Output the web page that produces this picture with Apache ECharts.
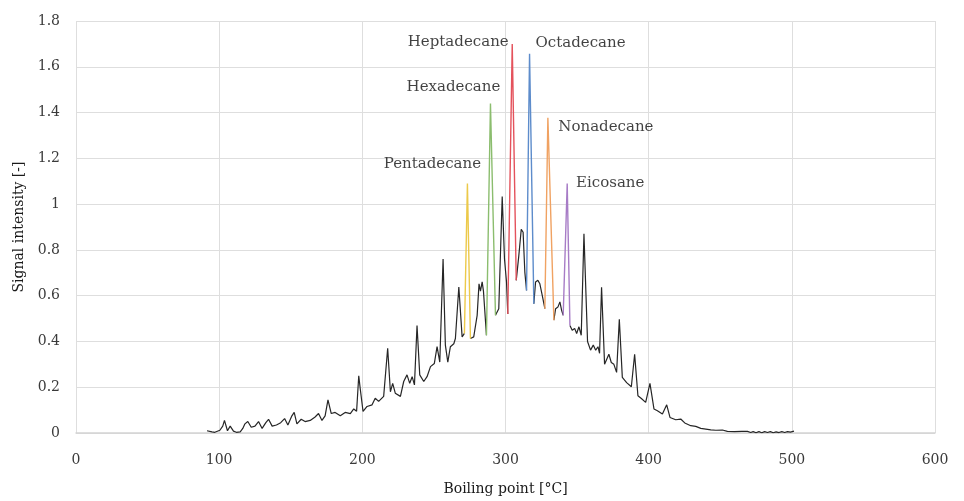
<!DOCTYPE html>
<html>
<head>
<meta charset="utf-8">
<script src="https://cdn.jsdelivr.net/npm/echarts@6/dist/echarts.min.js"></script>
<style>
  html, body { margin: 0; padding: 0; background: #ffffff; }
  #chart { width: 964px; height: 501px; }
</style>
</head>
<body>
<div id="chart"></div>
<script>
// Axis ticks
const xTicks = [0, 100, 200, 300, 400, 500, 600];
const yTicks = [0, 0.2, 0.4, 0.6, 0.8, 1, 1.2, 1.4, 1.6, 1.8];

// Chromatogram trace (boiling point °C, signal), split where the n-alkane peaks sit
const traceLow = [
  [91.5,0.01],[95,0.005],[97,0.003],[100.5,0.012],[102.5,0.03],[103.7,0.055],[105.8,0.01],[107.7,0.03],
  [110,0.008],[112,0.003],[114.7,0.005],[116.5,0.02],[118,0.04],[120,0.05],[122.4,0.025],[125,0.03],
  [127.5,0.05],[130,0.02],[132.6,0.045],[134.5,0.06],[137,0.03],[140,0.035],[143,0.045],[145.7,0.063],
  [148,0.035],[150.8,0.075],[152.4,0.09],[154.3,0.04],[157.3,0.06],[160,0.05],[163.6,0.055],[167,0.07],
  [169.4,0.085],[171.8,0.055],[174,0.075],[176,0.145],[178.3,0.085],[181,0.09],[184.6,0.075],[188,0.09],
  [191.6,0.085],[194,0.105],[196,0.095],[197.5,0.25],[198.6,0.19],[200.5,0.094],[203.3,0.116],[206.8,0.123],
  [209,0.152],[211.4,0.138],[214.9,0.16],[217.7,0.37],[219.6,0.18],[221.2,0.217],[223,0.174],[226.6,0.16],
  [228.9,0.225],[231.2,0.254],[233.1,0.217],[234.8,0.246],[236.4,0.21],[238.2,0.47],[240.1,0.254],[242.9,0.225],
  [245.2,0.246],[247.6,0.29],[250.3,0.304],[252.2,0.377],[254.1,0.31],[256.4,0.76],[258,0.384],[259.7,0.31],
  [261.5,0.377],[263.9,0.39],[265,0.413],[267.4,0.638],[269.7,0.42],[271.3,0.435]
];
const traceC15C16 = [[275.5,0.413],[277.8,0.42],[280.2,0.514],[281.5,0.652],[282.5,0.62],[283.7,0.66],[284.6,0.62],[286.7,0.427]];
const traceC16C17 = [[293,0.514],[295.3,0.543],[297.7,1.033],[299.3,0.76],[300.7,0.66],[301.6,0.52]];
const traceC17C18 = [[307.5,0.667],[309.3,0.775],[311,0.89],[312.3,0.877],[313.5,0.703],[314.7,0.623]];
const traceC18C19 = [[319.8,0.565],[321,0.66],[322.6,0.667],[324,0.652],[325.7,0.6],[327.5,0.543]];
const traceC19C20 = [[333.8,0.493],[335,0.543],[336.6,0.55],[338,0.573],[339.2,0.536],[340.3,0.514]];
const traceHigh = [
  [345,0.47],[346.6,0.449],[348.3,0.457],[349.7,0.435],[351.3,0.464],[352.9,0.427],[354.8,0.87],[357.3,0.4],
  [359.4,0.362],[361.3,0.384],[363,0.362],[364.6,0.377],[365.7,0.348],[367.1,0.637],[369.2,0.3],[370.5,0.308],
  [372.2,0.344],[373.9,0.308],[375.7,0.3],[377.6,0.265],[379.5,0.497],[381.6,0.243],[384.6,0.22],[387.9,0.202],
  [390.2,0.344],[392.5,0.163],[394.9,0.151],[397.9,0.134],[400.9,0.217],[403.7,0.105],[406.1,0.097],[409.6,0.083],
  [412.6,0.123],[414.9,0.068],[418.9,0.058],[422.4,0.061],[425.2,0.044],[429.4,0.032],[432.9,0.029],[436.4,0.02],
  [439.9,0.017],[443.4,0.014],[446.9,0.012],[451.5,0.013],[455,0.007],[460,0.006],[465,0.007],[469,0.007],
  [471.3,0.002],[473,0.006],[475,0.001],[477,0.006],[479,0.001],[481,0.006],[483,0.002],[485,0.006],
  [487,0.001],[489,0.005],[491,0.002],[493,0.006],[495,0.002],[497,0.006],[499,0.004],[501.5,0.008]
];

// n-alkane peaks: valley, apex, valley
const alkaneNames = ['Pentadecane', 'Hexadecane', 'Heptadecane', 'Octadecane', 'Nonadecane', 'Eicosane'];
const pentadecane = [[271.3,0.435],[273.4,1.09],[275.5,0.413]];
const hexadecane  = [[286.7,0.427],[289.5,1.44],[293,0.514]];
const heptadecane = [[301.6,0.52],[304.7,1.7],[307.5,0.667]];
const octadecane  = [[314.7,0.623],[316.8,1.657],[319.8,0.565]];
const nonadecane  = [[327.5,0.543],[329.6,1.377],[333.8,0.493]];
const eicosane    = [[340.3,0.514],[343.1,1.09],[345,0.47]];

const traceSegments = [traceLow, traceC15C16, traceC16C17, traceC17C18, traceC18C19, traceC19C20, traceHigh];
const alkanePeaks = [pentadecane, hexadecane, heptadecane, octadecane, nonadecane, eicosane];

// Styling
const serif = '"DejaVu Serif", "Liberation Serif", serif';
const alkaneColors = ['#ecc94a', '#8bbd6e', '#e4525c', '#5d8ccb', '#f0a262', '#a77cc6'];
const labelOffsets = [[-35, -19], [-37, -16], [-54, -2], [51, -11], [58, 9], [43, 0]];

const series = [];
traceSegments.forEach(function (seg) {
  series.push({
    type: 'line', data: seg, showSymbol: false, smooth: false,
    lineStyle: { color: '#262626', width: 1.2 }, z: 2, silent: true
  });
});
alkanePeaks.forEach(function (peak, i) {
  series.push({
    type: 'line', data: peak, showSymbol: false,
    lineStyle: { color: alkaneColors[i], width: 1.4 }, z: 3, silent: true
  });
});
// Peak names placed next to each apex
series.push({
  type: 'scatter',
  symbolSize: 1,
  itemStyle: { color: 'rgba(0,0,0,0)' },
  silent: true,
  z: 4,
  data: alkanePeaks.map(function (peak, i) {
    return {
      value: peak[1],
      name: alkaneNames[i],
      label: {
        show: true,
        position: 'inside',
        offset: labelOffsets[i],
        formatter: alkaneNames[i],
        fontFamily: serif,
        fontSize: 15,
        color: '#111111'
      }
    };
  })
});

const chart = echarts.init(document.getElementById('chart'), null, { renderer: 'canvas' });
chart.setOption({
  animation: false,
  backgroundColor: '#ffffff',
  grid: { left: 76, right: 29, top: 21, bottom: 67, containLabel: false },
  xAxis: {
    type: 'value',
    min: xTicks[0], max: xTicks[xTicks.length - 1], interval: 100,
    name: 'Boiling point [°C]',
    nameLocation: 'middle', nameGap: 49,
    nameTextStyle: { fontFamily: serif, fontSize: 14, color: '#1a1a1a' },
    axisLine: { show: true, lineStyle: { color: '#d4d4d4', width: 1.5 } },
    axisTick: { show: false },
    axisLabel: { margin: 20, fontFamily: serif, fontSize: 14, color: '#3a3a3a' },
    splitLine: { show: true, lineStyle: { color: '#dedede', width: 1 } }
  },
  yAxis: {
    type: 'value',
    min: yTicks[0], max: yTicks[yTicks.length - 1], interval: 0.2,
    name: 'Signal intensity [-]',
    nameLocation: 'middle', nameGap: 49, nameRotate: 90,
    nameTextStyle: { fontFamily: serif, fontSize: 14, color: '#1a1a1a' },
    axisLine: { show: false },
    axisTick: { show: false },
    axisLabel: { margin: 16, fontFamily: serif, fontSize: 14, color: '#3a3a3a' },
    splitLine: { show: true, lineStyle: { color: '#dedede', width: 1 } }
  },
  series: series
});
</script>
</body>
</html>
